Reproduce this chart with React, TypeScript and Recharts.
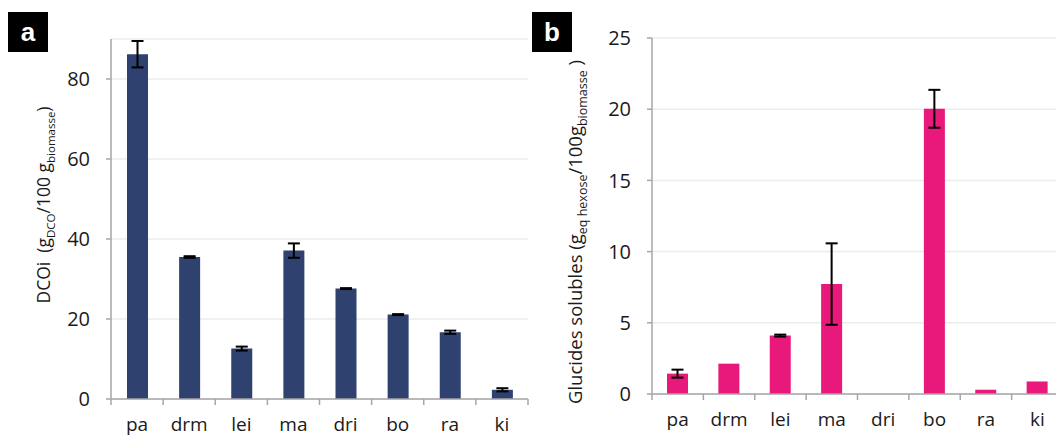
import React from 'react';
import { BarChart, Bar, XAxis, YAxis, CartesianGrid, ErrorBar } from 'recharts';

// Samples (x axis)
const categories = ['pa', 'drm', 'lei', 'ma', 'dri', 'bo', 'ra', 'ki'];

// Panel a : DCOi (gDCO / 100 g biomasse)
const dcoi = [86.2, 35.5, 12.6, 37.1, 27.6, 21.1, 16.7, 2.3];
const dcoiErr = [3.3, 0.2, 0.5, 1.8, 0.12, 0.12, 0.4, 0.4];
const dcoiTicks = [0, 20, 40, 60, 80];

// Panel b : glucides solubles (g eq hexose / 100 g biomasse)
const glucides = [1.43, 2.13, 4.1, 7.72, 0, 20.03, 0.3, 0.88];
const glucidesErr = [0.28, 0, 0.07, 2.86, 0, 1.33, 0, 0];
const glucidesTicks = [0, 5, 10, 15, 20, 25];

const dataA = categories.map((name, i) => ({ name, value: dcoi[i], err: dcoiErr[i] }));
const dataB = categories.map((name, i) => ({ name, value: glucides[i], err: glucidesErr[i] }));

const AXIS = '#a6a6a6';
const GRID = '#ececec';
const TEXT = '#1a1a1a';
const FONT = '"Open Sans", sans-serif';

// category labels with tick marks placed between categories (Excel style)
const CatTick = (props: any) => {
  const { x, y, payload, index, visibleTicksCount, width } = props;
  const band = payload && payload.offset ? payload.offset * 2 : width / visibleTicksCount;
  const last = index === visibleTicksCount - 1;
  return (
    <g>
      <line x1={x - band / 2} x2={x - band / 2} y1={y} y2={y + 6} stroke={AXIS} strokeWidth={1.5} />
      {last && <line x1={x + band / 2} x2={x + band / 2} y1={y} y2={y + 6} stroke={AXIS} strokeWidth={1.5} />}
      <text x={x} y={y + 32} textAnchor="middle" fontSize={19} fontFamily={FONT} fill={TEXT}>
        {payload.value}
      </text>
    </g>
  );
};

const AxisTitle: React.FC<{ cx: number; cy: number; size: number; sub: number; parts: [string, boolean][] }> = ({
  cx, cy, size, sub, parts,
}) => {
  let prev = false;
  return (
    <text
      x={cx}
      y={cy}
      transform={`rotate(-90 ${cx} ${cy})`}
      textAnchor="middle"
      fontFamily={FONT}
      fontSize={size}
      fill={TEXT}
      style={{ whiteSpace: 'pre' }}
    >
      {parts.map(([t, isSub], i) => {
        const dy = isSub === prev ? 0 : isSub ? 5 : -5;
        prev = isSub;
        return (
          <tspan key={i} dy={dy} fontSize={isSub ? sub : size}>
            {t}
          </tspan>
        );
      })}
    </text>
  );
};

const PanelTag: React.FC<{ left: number; letter: string }> = ({ left, letter }) => (
  <div
    style={{
      position: 'absolute', left, top: 12, width: 40, height: 40, background: '#000', color: '#fff',
      fontFamily: '"Liberation Sans", Arial, sans-serif', fontWeight: 700, fontSize: 26,
      display: 'flex', alignItems: 'center', justifyContent: 'center', lineHeight: 1,
    }}
  >
    {letter}
  </div>
);

export default function App() {
  return (
    <div style={{ position: 'absolute', left: 0, top: 0, width: 1056, height: 436, overflow: 'hidden', background: '#fff' }}>
      <div style={{ position: 'absolute', left: 0, top: 0 }}>
        <BarChart width={540} height={436} data={dataA} margin={{ top: 39, right: 12, bottom: 0, left: 0 }}>
          <CartesianGrid vertical={false} stroke={GRID} strokeWidth={1.5} />
          <XAxis
            dataKey="name"
            height={37}
            stroke={AXIS}
            strokeWidth={1.5}
            tickLine={false}
            tickSize={0}
            tickMargin={0}
            tick={<CatTick />}
            interval={0}
          />
          <YAxis
            width={111}
            domain={[0, 90]}
            ticks={dcoiTicks}
            stroke={AXIS}
            strokeWidth={1.5}
            tickSize={5}
            tickMargin={16}
            tick={{ fill: TEXT, fontSize: 20, fontFamily: FONT }}
            label={{
              content: () => (
                <AxisTitle
                  cx={50}
                  cy={205}
                  size={17.5}
                  sub={11.5}
                  parts={[['DCOi  (g', false], ['DCO', true], ['/100 g', false], ['biomasse', true], [')', false]]}
                />
              ),
            }}
          />
          <Bar dataKey="value" fill="#2e416f" barSize={21} isAnimationActive={false}>
            <ErrorBar dataKey="err" width={6} stroke="#000" strokeWidth={2} direction="y" isAnimationActive={false} />
          </Bar>
        </BarChart>
      </div>
      <div style={{ position: 'absolute', left: 530, top: 0 }}>
        <BarChart width={540} height={436} data={dataB} margin={{ top: 38, right: 7, bottom: 0, left: 0 }}>
          <CartesianGrid vertical={false} stroke={GRID} strokeWidth={1.5} />
          <XAxis
            dataKey="name"
            height={42}
            stroke={AXIS}
            strokeWidth={1.5}
            tickLine={false}
            tickSize={0}
            tickMargin={0}
            tick={<CatTick />}
            interval={0}
          />
          <YAxis
            width={122}
            domain={[0, 25]}
            ticks={glucidesTicks}
            stroke={AXIS}
            strokeWidth={1.5}
            tickSize={5}
            tickMargin={16}
            tick={{ fill: TEXT, fontSize: 20, fontFamily: FONT }}
            label={{
              content: () => (
                <AxisTitle
                  cx={52}
                  cy={232}
                  size={18.5}
                  sub={12.5}
                  parts={[
                    ['Glucides solubles (g', false],
                    ['eq hexose', true],
                    ['/100g', false],
                    ['biomasse', true],
                    [' )', false],
                  ]}
                />
              ),
            }}
          />
          <Bar dataKey="value" fill="#e8197b" barSize={21} isAnimationActive={false}>
            <ErrorBar dataKey="err" width={6} stroke="#000" strokeWidth={2} direction="y" isAnimationActive={false} />
          </Bar>
        </BarChart>
      </div>
      <PanelTag left={8} letter="a" />
      <PanelTag left={532} letter="b" />
    </div>
  );
}
